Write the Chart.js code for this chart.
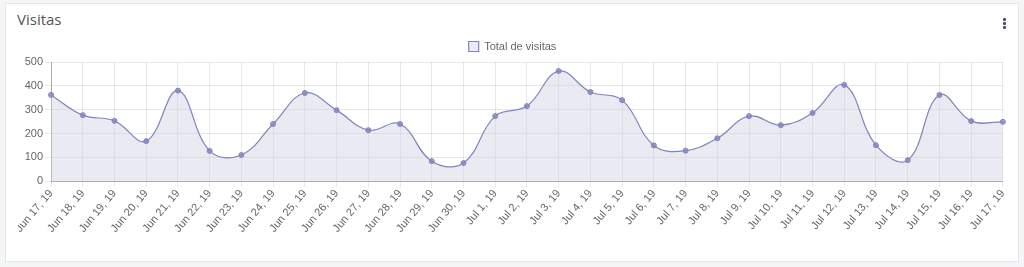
<!DOCTYPE html>
<html>
<head>
<meta charset="utf-8">
<script src="https://cdn.jsdelivr.net/npm/chart.js@4.4.0/dist/chart.umd.min.js"></script>
<style>
  body { margin: 0; background: #f4f5f7; font-family: "Open Sans", "Liberation Sans", sans-serif; }
  .card { position: absolute; left: 5px; top: 3px; width: 1012px; height: 257px; background: #fff; border: 1px solid #e6e6e6; }
  .card h3 { position: absolute; left: 11px; top: 5px; margin: 0; font-size: 15px; font-weight: 400; color: #555; }
  .kebab { position: absolute; right: 12px; top: 14px; width: 3px; }
  .kebab span { display: block; width: 3px; height: 3px; margin-bottom: 1px; background: #44505f; border-radius: 1px; }
  .chartbox { position: absolute; left: 12px; top: 29px; width: 995px; height: 202px; }
</style>
</head>
<body>
<div class="card">
  <h3>Visitas</h3>
  <div class="kebab"><span></span><span></span><span></span></div>
  <div class="chartbox"><canvas id="visitas"></canvas></div>
</div>
<script>
// etiquetas de dias
var dias = ["Jun 17, 19", "Jun 18, 19", "Jun 19, 19", "Jun 20, 19", "Jun 21, 19", "Jun 22, 19",
  "Jun 23, 19", "Jun 24, 19", "Jun 25, 19", "Jun 26, 19", "Jun 27, 19", "Jun 28, 19",
  "Jun 29, 19", "Jun 30, 19", "Jul 1, 19", "Jul 2, 19", "Jul 3, 19", "Jul 4, 19",
  "Jul 5, 19", "Jul 6, 19", "Jul 7, 19", "Jul 8, 19", "Jul 9, 19", "Jul 10, 19",
  "Jul 11, 19", "Jul 12, 19", "Jul 13, 19", "Jul 14, 19", "Jul 15, 19", "Jul 16, 19", "Jul 17, 19"];

// total de visitas por dia
var visitas = [362, 277, 253, 168, 380, 127, 110, 240, 370, 298, 214, 240,
  84, 76, 273, 315, 462, 374, 340, 150, 128, 180, 273, 235,
  286, 404, 151, 88, 362, 252, 249];

var yTicks = { min: 0, max: 500, step: 100 };

var lineColor = "rgb(128, 132, 190)";
var fillColor = "rgba(205, 206, 226, 0.42)";

Chart.defaults.font.family = "'Liberation Sans', Arial, sans-serif";
Chart.defaults.font.size = 11;
Chart.defaults.color = "#666";

var ctx = document.getElementById("visitas").getContext("2d");

new Chart(ctx, {
  type: "line",
  data: {
    labels: dias,
    datasets: [{
      label: "Total de visitas",
      data: visitas,
      borderColor: lineColor,
      backgroundColor: fillColor,
      borderWidth: 1.2,
      fill: true,
      tension: 0.4,
      pointRadius: 2.5,
      pointBackgroundColor: "rgba(128, 132, 190, 0.8)",
      pointBorderColor: lineColor,
      pointBorderWidth: 1
    }]
  },
  options: {
    responsive: true,
    maintainAspectRatio: false,
    animation: false,
    layout: { padding: { right: 6 } },
    plugins: {
      legend: {
        labels: { boxWidth: 10, boxHeight: 10, font: { size: 11 }, padding: 8 }
      },
      tooltip: { enabled: false }
    },
    scales: {
      x: {
        grid: { color: "rgba(0,0,0,0.09)", tickLength: 6 },
        border: { color: "rgba(0,0,0,0.25)" },
        ticks: { minRotation: 50, maxRotation: 50, autoSkip: false, padding: 0 }
      },
      y: {
        min: yTicks.min,
        max: yTicks.max,
        grid: { color: "rgba(0,0,0,0.09)", tickLength: 6 },
        border: { color: "rgba(0,0,0,0.25)" },
        ticks: { stepSize: yTicks.step, padding: 2 }
      }
    }
  }
});
</script>
</body>
</html>
